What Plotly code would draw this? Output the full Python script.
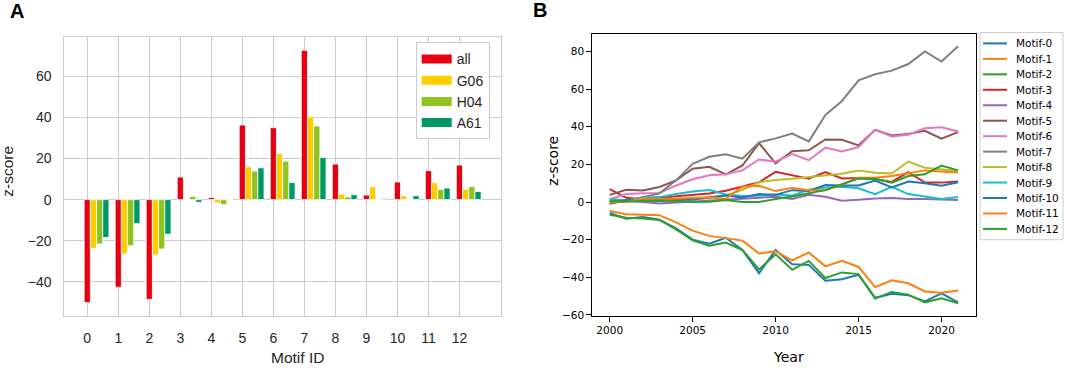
import plotly.graph_objects as go

# ---------------- Panel A data ----------------
motif_ids = list(range(13))
bar_series = ["all", "G06", "H04", "A61"]
all_z = [-50.1, -42.6, -48.5, 11.0, 1.0, 36.3, 35.0, 72.6, 17.3, 2.2, 8.6, 14.1, 16.8]
g06_z = [-23.7, -26.4, -26.9, 0.0, -1.6, 16.0, 22.4, 40.3, 2.7, 6.2, 1.8, 8.2, 5.1]
h04_z = [-21.6, -22.4, -24.0, 1.6, -2.4, 13.9, 18.7, 35.8, 1.3, 0.0, 0.0, 5.0, 6.4]
a61_z = [-18.4, -11.7, -16.8, -1.3, 0.0, 15.5, 8.3, 20.5, 2.4, 0.6, 1.9, 5.6, 4.0]
bar_colors = ["#E60012", "#FFCC00", "#8FC31F", "#009966"]

# ---------------- Panel B data ----------------
years = list(range(2000, 2022))
m0 = [-5.8, -8.9, -8.0, -9.4, -14.0, -20.0, -22.2, -19.0, -25.5, -37.8, -25.5, -33.1, -33.4, -41.8, -41.0, -38.7, -50.9, -48.8, -49.5, -52.8, -48.5, -53.3]
m1 = [-4.8, -6.5, -6.8, -7.0, -10.8, -15.2, -18.0, -19.2, -20.5, -27.3, -26.2, -31.0, -26.8, -34.2, -31.3, -34.5, -45.2, -41.6, -43.2, -47.5, -48.2, -47.0]
m2 = [-6.8, -8.3, -8.8, -9.5, -14.5, -20.3, -23.2, -21.5, -25.5, -35.8, -27.8, -36.0, -31.3, -40.4, -37.4, -38.3, -51.3, -47.8, -49.2, -53.3, -51.2, -53.8]
m3 = [6.8, 2.2, 1.5, 2.0, 3.0, 3.7, 4.5, 6.0, 8.3, 10.5, 16.0, 14.2, 12.4, 15.9, 12.5, 12.7, 12.2, 10.7, 15.8, 10.3, 10.3, 10.9]
m4 = [0.3, 0.5, 0.0, -0.8, -0.3, 0.2, 0.8, 1.3, 1.5, 2.0, 2.8, 1.6, 3.9, 2.8, 0.7, 1.2, 1.9, 2.1, 1.6, 1.6, 1.2, 1.1]
m5 = [3.8, 6.5, 6.1, 8.0, 11.5, 17.7, 18.7, 14.7, 19.4, 31.3, 20.5, 27.0, 27.5, 33.2, 33.1, 30.1, 38.3, 35.3, 36.2, 37.8, 33.6, 37.1]
m6 = [1.5, 4.2, 4.7, 4.8, 8.8, 12.1, 14.2, 14.7, 16.8, 22.6, 21.4, 25.5, 22.2, 28.9, 26.9, 29.2, 38.3, 34.8, 35.7, 39.2, 39.7, 37.5]
m7 = [-0.5, 0.5, 2.5, 4.6, 11.5, 20.3, 24.0, 25.3, 23.0, 31.7, 33.8, 36.4, 32.2, 46.2, 53.7, 64.6, 67.9, 69.8, 73.3, 80.0, 74.6, 82.7]
m8 = [1.0, 0.5, 0.8, 1.0, 1.2, 1.5, 2.0, 3.5, 6.5, 10.5, 11.7, 12.4, 13.3, 14.2, 15.0, 16.7, 15.6, 15.1, 21.5, 18.2, 17.3, 16.5]
m9 = [1.6, 1.0, 2.4, 2.6, 4.2, 5.6, 6.4, 4.0, 3.2, 3.3, 4.0, 3.4, 6.5, 7.7, 8.1, 7.3, 4.2, 8.1, 4.2, 3.0, 1.6, 2.6]
m10 = [-1.0, 1.0, 1.0, 0.5, 1.0, 1.2, 2.5, 3.5, 2.4, 4.2, 3.8, 6.3, 5.9, 9.0, 8.8, 8.8, 11.4, 7.7, 10.9, 10.0, 8.7, 10.5]
m11 = [-0.2, 0.2, 1.9, 1.6, 1.8, 2.0, 2.5, 1.6, 8.2, 8.6, 5.8, 7.5, 6.3, 6.3, 9.3, 12.9, 12.9, 13.8, 15.1, 16.8, 16.2, 15.7]
m12 = [0.5, 0.3, 0.5, 0.8, 0.5, 0.0, 0.2, 1.0, 0.0, 0.0, 1.6, 2.9, 4.6, 6.3, 9.5, 12.5, 12.4, 10.3, 13.8, 14.7, 19.4, 16.8]
motif_names = ["Motif-%d" % i for i in range(13)]
motif_series = [m0, m1, m2, m3, m4, m5, m6, m7, m8, m9, m10, m11, m12]
tab10 = ["#1f77b4", "#ff7f0e", "#2ca02c", "#d62728", "#9467bd", "#8c564b",
         "#e377c2", "#7f7f7f", "#bcbd22", "#17becf"]

W, H = 1065, 372
def px(x):
    return x / W
def py(y):
    return 1 - y / H

fig = go.Figure()

# Panel A bars
bar_width = 0.2
for k, (name, vals) in enumerate(zip(bar_series, [all_z, g06_z, h04_z, a61_z])):
    fig.add_trace(go.Bar(
        x=motif_ids, y=vals, width=bar_width, offset=-bar_width / 2 + k * bar_width,
        marker=dict(color=bar_colors[k], line=dict(color="white", width=0.8)),
        name=name, showlegend=False, xaxis="x", yaxis="y",
    ))
    # legend key (wide patch like matplotlib)
    fig.add_trace(go.Scatter(
        x=[None], y=[None], mode="lines", name=name,
        line=dict(color=bar_colors[k], width=9),
        xaxis="x", yaxis="y", legend="legend",
    ))

# Panel B lines
line_colors = [tab10[i % 10] for i in range(len(motif_series))]
for i, (name, vals) in enumerate(zip(motif_names, motif_series)):
    fig.add_trace(go.Scatter(
        x=years, y=vals, mode="lines", name=name,
        line=dict(color=line_colors[i], width=2),
        xaxis="x2", yaxis="y2", showlegend=False,
    ))

fontA = "Liberation Sans, Arial, sans-serif"
fontB = "DejaVu Sans, sans-serif"
grid = "#cccccc"

fig.update_layout(
    width=W, height=H, autosize=False,
    margin=dict(l=0, r=0, t=0, b=0),
    paper_bgcolor="white", plot_bgcolor="white",
    barmode="overlay",
    xaxis=dict(
        domain=[px(64.3), px(501)], range=[-0.74, 13.34],
        tickmode="array", tickvals=motif_ids, ticktext=[str(m) for m in motif_ids],
        showgrid=True, gridcolor=grid, gridwidth=1,
        showline=True, linecolor=grid, linewidth=1, mirror=True, zeroline=False,
        ticks="outside", ticklen=9, tickcolor="rgba(0,0,0,0)",
        tickfont=dict(family=fontA, size=14, color="#262626"),
    ),
    yaxis=dict(
        domain=[py(320.7), py(37.3)], range=[-56.8, 79.2],
        tickmode="array", tickvals=[-40, -20, 0, 20, 40, 60],
        showgrid=True, gridcolor=grid, gridwidth=1,
        showline=True, linecolor=grid, linewidth=1, mirror=True, zeroline=False,
        ticks="outside", ticklen=9, tickcolor="rgba(0,0,0,0)",
        tickfont=dict(family=fontA, size=14, color="#262626"),
    ),
    xaxis2=dict(
        domain=[px(592.3), px(975.5)], range=[1998.95, 2022.05], anchor="y2",
        tickmode="array", tickvals=[2000, 2005, 2010, 2015, 2020],
        showgrid=False, zeroline=False,
        showline=True, linecolor="black", linewidth=1, mirror=True,
        ticks="outside", ticklen=5, tickcolor="black",
        tickfont=dict(family=fontB, size=10.5, color="black"),
    ),
    yaxis2=dict(
        domain=[py(320), py(34)], range=[-60.4, 89.5], anchor="x2",
        tickmode="array", tickvals=[-60, -40, -20, 0, 20, 40, 60, 80],
        showgrid=False, zeroline=False,
        showline=True, linecolor="black", linewidth=1, mirror=True,
        ticks="outside", ticklen=5, tickcolor="black",
        tickfont=dict(family=fontB, size=10.5, color="black"),
    ),
    legend=dict(
        x=px(415.7), y=py(43), xanchor="left", yanchor="top",
        bgcolor="white", bordercolor=grid, borderwidth=1,
        font=dict(family=fontA, size=14, color="#262626"),
        itemwidth=30,
    ),
)

annotations = [
    dict(text="<b>A</b>", x=px(16.5), y=py(11.5), font=dict(family=fontA, size=20, color="black")),
    dict(text="<b>B</b>", x=px(540), y=py(10.5), font=dict(family=fontA, size=20, color="black")),
    dict(text="Motif ID", x=px(297), y=py(362), font=dict(family=fontA, size=15.5, color="#262626")),
    dict(text="z-score", x=px(8), y=py(174), textangle=-90, font=dict(family=fontA, size=15.5, color="#262626")),
    dict(text="Year", x=px(788), y=py(362), font=dict(family=fontB, size=14, color="black")),
    dict(text="z-score", x=px(553), y=py(163), textangle=-90, font=dict(family=fontB, size=14, color="black")),
]
for a in annotations:
    a.update(xref="paper", yref="paper", showarrow=False, xanchor="center", yanchor="middle")

# Panel B legend (compact, matplotlib-like spacing)
leg_left, leg_right, leg_top, leg_bottom = 980, 1063, 33, 243
first_row, row_step = 44, 15.67
shapes = [dict(type="rect", xref="paper", yref="paper",
               x0=px(leg_left), x1=px(leg_right), y0=py(leg_bottom), y1=py(leg_top),
               line=dict(color=grid, width=1), fillcolor="white", layer="above")]
for i, name in enumerate(motif_names):
    yy = first_row + row_step * i
    shapes.append(dict(type="line", xref="paper", yref="paper",
                       x0=px(983), x1=px(1007), y0=py(yy), y1=py(yy),
                       line=dict(color=line_colors[i], width=2), layer="above"))
    annotations.append(dict(text=name, xref="paper", yref="paper", x=px(1014), y=py(yy),
                            xanchor="left", yanchor="middle", showarrow=False,
                            font=dict(family=fontB, size=10.5, color="black")))

fig.update_layout(annotations=annotations, shapes=shapes)

fig.write_html("out.html", config={"displayModeBar": False},
               post_script="document.body.style.margin='0';document.body.style.overflow='hidden';")
